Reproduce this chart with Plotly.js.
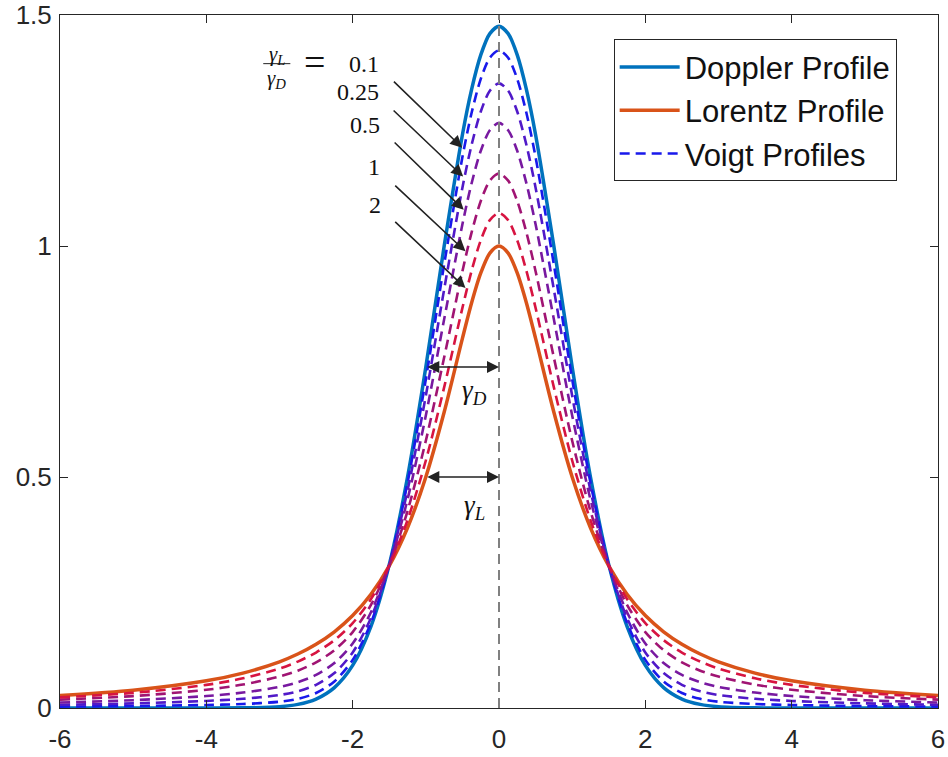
<!DOCTYPE html>
<html>
<head>
<meta charset="utf-8">
<script src="https://cdn.plot.ly/plotly-3.0.1.min.js"></script>
<style>html,body{margin:0;padding:0;background:#fff;}#chart{width:948px;height:757px;}</style>
</head>
<body>
<div id="chart"></div>
<script>
// ---- data ----
const xVals = [-6,-5,-4,-3.5,-3,-2.75,-2.5,-2.25,-2,-1.75,-1.5,-1.25,-1,-0.75,-0.5,-0.375,-0.25,-0.125,0,0.125,0.25,0.375,0.5,0.75,1,1.25,1.5,1.75,2,2.25,2.5,2.75,3,3.5,4,5,6];
const doppler = [0,0,0,0.0003,0.0029,0.0078,0.0194,0.0442,0.0922,0.1767,0.3102,0.4997,0.7379,0.9992,1.2409,1.3386,1.4132,1.4598,1.4757,1.4598,1.4132,1.3386,1.2409,0.9992,0.7379,0.4997,0.3102,0.1767,0.0922,0.0442,0.0194,0.0078,0.0029,0.0003,0,0,0];
const lorentz = [0.027,0.0385,0.0588,0.0755,0.1,0.1168,0.1379,0.1649,0.2,0.2462,0.3077,0.3902,0.5,0.64,0.8,0.8767,0.9412,0.9846,1,0.9846,0.9412,0.8767,0.8,0.64,0.5,0.3902,0.3077,0.2462,0.2,0.1649,0.1379,0.1168,0.1,0.0755,0.0588,0.0385,0.027];
const voigt01 = [0.0030,0.0042,0.0065,0.0086,0.0136,0.0198,0.0324,0.0575,0.1041,0.1843,0.3099,0.4877,0.7117,0.9597,1.1924,1.2878,1.3613,1.4075,1.4234,1.4075,1.3613,1.2878,1.1924,0.9597,0.7117,0.4877,0.3099,0.1843,0.1041,0.0575,0.0324,0.0198,0.0136,0.0086,0.0065,0.0042,0.0030];
const voigt025 = [0.0070,0.0100,0.0153,0.0199,0.0281,0.0361,0.0502,0.0756,0.1202,0.1948,0.3095,0.4712,0.6760,0.9058,1.1263,1.2185,1.2905,1.3362,1.3520,1.3362,1.2905,1.2185,1.1263,0.9058,0.6760,0.4712,0.3095,0.1948,0.1202,0.0756,0.0502,0.0361,0.0281,0.0199,0.0153,0.0100,0.0070];
const voigt05 = [0.0119,0.0169,0.0259,0.0334,0.0456,0.0558,0.0715,0.0973,0.1396,0.2073,0.3091,0.4515,0.6332,0.8412,1.0469,1.1354,1.2055,1.2507,1.2664,1.2507,1.2055,1.1354,1.0469,0.8412,0.6332,0.4515,0.3091,0.2073,0.1396,0.0973,0.0715,0.0558,0.0456,0.0334,0.0259,0.0169,0.0119];
const voigt1 = [0.0181,0.0258,0.0394,0.0507,0.0680,0.0808,0.0988,0.1251,0.1644,0.2233,0.3085,0.4263,0.5785,0.7585,0.9455,1.0291,1.0970,1.1414,1.1570,1.1414,1.0970,1.0291,0.9455,0.7585,0.5785,0.4263,0.3085,0.2233,0.1644,0.1251,0.0988,0.0808,0.0680,0.0507,0.0394,0.0258,0.0181];
const voigt2 = [0.0230,0.0327,0.0500,0.0642,0.0854,0.1005,0.1201,0.1468,0.1838,0.2358,0.3081,0.4066,0.5357,0.6939,0.8661,0.9460,1.0120,1.0559,1.0714,1.0559,1.0120,0.9460,0.8661,0.6939,0.5357,0.4066,0.3081,0.2358,0.1838,0.1468,0.1201,0.1005,0.0854,0.0642,0.0500,0.0327,0.0230];
const voigtSeries = [voigt01, voigt025, voigt05, voigt1, voigt2];
const ratioLabels = ["0.1", "0.25", "0.5", "1", "2"];
const seriesNames = ["Doppler Profile", "Lorentz Profile", "Voigt Profiles"];
const xTickVals = [-6,-4,-2,0,2,4,6];
const xTickText = ["-6","-4","-2","0","2","4","6"];
const yTickVals = [0,0.5,1,1.5];
const yTickText = ["0","0.5","1","1.5"];

// annotation anchor positions (axis units)
const labelX = [-1.607,-1.607,-1.594,-1.594,-1.580];
const labelY = [1.394,1.3336,1.2624,1.1718,1.0898];
const arrowTailX = [-1.457,-1.461,-1.447,-1.439,-1.439];
const arrowTailY = [1.3589,1.2963,1.2273,1.1336,1.0553];
const arrowHeadX = [-0.503,-0.490,-0.482,-0.458,-0.458];
const arrowHeadY = [1.2128,1.1502,1.0784,0.9884,0.9092];

// ---- styles ----
const voigtColors = ['rgb(25,25,235)','rgb(80,25,200)','rgb(120,25,160)','rgb(160,20,115)','rgb(215,20,65)'];
const serif = 'Liberation Serif, DejaVu Serif, serif';
const sans = 'Liberation Sans, Arial, sans-serif';

const traces = [];
traces.push({x:xVals, y:doppler, type:'scatter', mode:'lines', name:seriesNames[0],
  line:{color:'#0072BD', width:3.5, shape:'spline', smoothing:0.8}});
traces.push({x:xVals, y:lorentz, type:'scatter', mode:'lines', name:seriesNames[1],
  line:{color:'#D95319', width:3.5, shape:'spline', smoothing:0.8}});
voigtSeries.forEach((ys,i)=>{
  traces.push({x:xVals, y:ys, type:'scatter', mode:'lines', name:seriesNames[2],
    showlegend:i===0,
    line:{color:voigtColors[i], width:2.6, dash:'10px,6px', shape:'spline', smoothing:0.8}});
});

const annotations = [];
for (let i=0;i<5;i++){
  annotations.push({x:labelX[i], y:labelY[i], xref:'x', yref:'y', text:ratioLabels[i], showarrow:false,
    xanchor:'right', yanchor:'middle', font:{family:serif, size:24, color:'#111'}});
  annotations.push({x:arrowHeadX[i], y:arrowHeadY[i], ax:arrowTailX[i], ay:arrowTailY[i],
    xref:'x', yref:'y', axref:'x', ayref:'y', text:'', showarrow:true,
    arrowhead:2, arrowsize:1.5, arrowwidth:1.6, arrowcolor:'#222'});
}
// fraction gamma_L / gamma_D =
annotations.push({x:-3.037, y:1.414, xref:'x', yref:'y', text:'<i>γ</i><sub><i>L</i></sub>', showarrow:false,
  xanchor:'center', yanchor:'middle', font:{family:serif, size:21, color:'#111'}});
annotations.push({x:-3.037, y:1.362, xref:'x', yref:'y', text:'<i>γ</i><sub><i>D</i></sub>', showarrow:false,
  xanchor:'center', yanchor:'middle', font:{family:serif, size:21, color:'#111'}});
annotations.push({x:-2.524, y:1.398, xref:'x', yref:'y', text:'=', showarrow:false,
  xanchor:'center', yanchor:'middle', font:{family:serif, size:38, color:'#111'}});
// half-width arrows
annotations.push({x:0, y:0.738, ax:-1, ay:0.738, xref:'x', yref:'y', axref:'x', ayref:'y', text:'',
  showarrow:true, arrowhead:2, startarrowhead:2, arrowside:'end+start', arrowsize:1.5, arrowwidth:1.6, startarrowsize:1.5, arrowcolor:'#222'});
annotations.push({x:0, y:0.5, ax:-1, ay:0.5, xref:'x', yref:'y', axref:'x', ayref:'y', text:'',
  showarrow:true, arrowhead:2, startarrowhead:2, arrowside:'end+start', arrowsize:1.5, arrowwidth:1.6, startarrowsize:1.5, arrowcolor:'#222'});
annotations.push({x:-0.33, y:0.683, xref:'x', yref:'y', text:'<i>γ</i><sub><i>D</i></sub>', showarrow:false,
  xanchor:'center', yanchor:'middle', font:{family:serif, size:27, color:'#111'}});
annotations.push({x:-0.33, y:0.435, xref:'x', yref:'y', text:'<i>γ</i><sub><i>L</i></sub>', showarrow:false,
  xanchor:'center', yanchor:'middle', font:{family:serif, size:27, color:'#111'}});

const shapes = [
  {type:'line', xref:'x', yref:'y', x0:0, x1:0, y0:0, y1:1.5, line:{color:'#808080', width:2, dash:'10px,6px'}},
  {type:'line', xref:'x', yref:'y', x0:-3.222, x1:-2.852, y0:1.3947, y1:1.3947, line:{color:'#222', width:1}}
];

const axisCommon = {showline:true, linecolor:'#262626', linewidth:1, mirror:'allticks', ticks:'inside',
  ticklen:8, tickcolor:'#262626', showgrid:false, zeroline:false, ticklabeloverflow:'allow',
  tickfont:{family:sans, size:26, color:'#262626'}};

const layout = {
  width:948, height:757,
  margin:{l:60, r:10, t:15, b:49},
  paper_bgcolor:'#fff', plot_bgcolor:'#fff',
  xaxis:Object.assign({}, axisCommon, {range:[-6,6], tickvals:xTickVals, ticktext:xTickText, ticklabelstandoff:8}),
  yaxis:Object.assign({}, axisCommon, {range:[0,1.5], tickvals:yTickVals, ticktext:yTickText, ticklabelstandoff:2}),
  showlegend:true,
  legend:{x:0.6306, y:0.965, xanchor:'left', yanchor:'top', bgcolor:'#fff', bordercolor:'#262626', borderwidth:1,
    font:{family:sans, size:31, color:'#111'}, itemwidth:60, tracegroupgap:0},
  annotations:annotations,
  shapes:shapes
};

Plotly.newPlot('chart', traces, layout, {displayModeBar:false, staticPlot:true});
</script>
</body>
</html>
